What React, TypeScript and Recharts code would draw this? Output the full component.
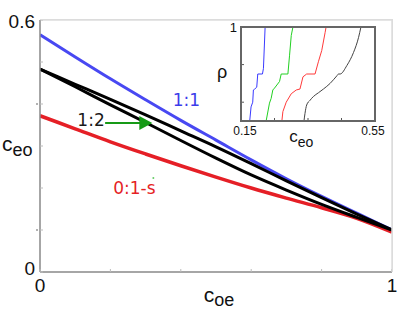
import React from 'react';
import { LineChart, Line, XAxis, YAxis, ReferenceDot, ReferenceLine } from 'recharts';

// ---- main chart data ----
const ratio11 = [
  { x: 0, y: 0.565 }, { x: 0.1, y: 0.512 }, { x: 0.2, y: 0.460 }, { x: 0.3, y: 0.410 },
  { x: 0.4, y: 0.361 }, { x: 0.5, y: 0.314 }, { x: 0.6, y: 0.267 }, { x: 0.7, y: 0.222 },
  { x: 0.8, y: 0.180 }, { x: 0.9, y: 0.140 }, { x: 1, y: 0.10 },
];
const ratio12Upper = [
  { x: 0, y: 0.483 }, { x: 0.1, y: 0.447 }, { x: 0.2, y: 0.411 }, { x: 0.3, y: 0.374 },
  { x: 0.4, y: 0.336 }, { x: 0.5, y: 0.298 }, { x: 0.6, y: 0.258 }, { x: 0.7, y: 0.217 },
  { x: 0.8, y: 0.177 }, { x: 0.9, y: 0.138 }, { x: 1, y: 0.10 },
];
const ratio12Lower = [
  { x: 0, y: 0.483 }, { x: 0.1, y: 0.441 }, { x: 0.2, y: 0.398 }, { x: 0.3, y: 0.356 },
  { x: 0.4, y: 0.313 }, { x: 0.5, y: 0.271 }, { x: 0.6, y: 0.231 }, { x: 0.7, y: 0.195 },
  { x: 0.8, y: 0.161 }, { x: 0.9, y: 0.130 }, { x: 1, y: 0.10 },
];
const ratio01s = [
  { x: 0, y: 0.372 }, { x: 0.1, y: 0.341 }, { x: 0.2, y: 0.310 }, { x: 0.3, y: 0.281 },
  { x: 0.4, y: 0.253 }, { x: 0.5, y: 0.226 }, { x: 0.6, y: 0.200 }, { x: 0.7, y: 0.176 },
  { x: 0.8, y: 0.153 }, { x: 0.9, y: 0.128 }, { x: 1, y: 0.095 },
];
const mainXTicks = [0, 0.2, 0.4, 0.6, 0.8, 1];
const mainYTicks = [0, 0.1, 0.2, 0.3, 0.4, 0.5, 0.6];
const mainXLabels: Record<string, string> = { '0': '0', '1': '1' };
const mainYLabels: Record<string, string> = { '0': '0', '0.6': '0.6' };

// ---- inset data (cumulative distributions of c_eo) ----
const insetBlue = [
  { x: 0.170, r: 0 }, { x: 0.176, r: 0 }, { x: 0.180, r: 0.15 }, { x: 0.185, r: 0.2 },
  { x: 0.187, r: 0.33 }, { x: 0.191, r: 0.34 }, { x: 0.197, r: 0.36 }, { x: 0.200, r: 0.5 },
  { x: 0.214, r: 0.5 }, { x: 0.217, r: 0.56 }, { x: 0.222, r: 1 }, { x: 0.226, r: 1 },
];
const insetGreen = [
  { x: 0.202, r: 0 }, { x: 0.225, r: 0 }, { x: 0.235, r: 0.19 }, { x: 0.240, r: 0.24 },
  { x: 0.245, r: 0.33 }, { x: 0.250, r: 0.35 }, { x: 0.265, r: 0.42 }, { x: 0.270, r: 0.5 },
  { x: 0.290, r: 0.5 }, { x: 0.295, r: 0.70 }, { x: 0.300, r: 0.91 }, { x: 0.305, r: 1 },
  { x: 0.346, r: 1 },
];
const insetRed = [
  { x: 0.236, r: 0 }, { x: 0.272, r: 0 }, { x: 0.275, r: 0.1 }, { x: 0.285, r: 0.2 },
  { x: 0.300, r: 0.29 }, { x: 0.315, r: 0.33 }, { x: 0.326, r: 0.34 }, { x: 0.335, r: 0.47 },
  { x: 0.346, r: 0.5 }, { x: 0.371, r: 0.5 }, { x: 0.381, r: 0.63 }, { x: 0.391, r: 0.75 },
  { x: 0.401, r: 0.94 }, { x: 0.404, r: 1 }, { x: 0.426, r: 1 },
];
const insetBlack = [
  { x: 0.338, r: 0 }, { x: 0.341, r: 0.08 }, { x: 0.346, r: 0.17 }, { x: 0.356, r: 0.22 },
  { x: 0.366, r: 0.26 }, { x: 0.381, r: 0.30 }, { x: 0.396, r: 0.34 }, { x: 0.416, r: 0.40 },
  { x: 0.436, r: 0.48 }, { x: 0.441, r: 0.5 }, { x: 0.446, r: 0.5 }, { x: 0.466, r: 0.59 },
  { x: 0.486, r: 0.73 }, { x: 0.501, r: 0.89 }, { x: 0.508, r: 1 },
];
const insetXTicks = [0.15, 0.2, 0.25, 0.3, 0.35, 0.4, 0.45, 0.5, 0.55];
const insetYTicks = [0, 0.2, 0.4, 0.6, 0.8, 1];
const insetXLabels: Record<string, string> = { '0.15': '0.15', '0.55': '0.55' };
const insetYLabels: Record<string, string> = { '0': '0', '1': '1' };

const FONT = '"Liberation Sans", Arial, sans-serif';
const FONT2 = '"DejaVu Sans", sans-serif';

const MainXTick = (p: any) => {
  const lab = mainXLabels[String(p.payload.value)];
  return (
    <g>
      <line x1={p.x} x2={p.x} y1={p.y} y2={p.y - 3} stroke="#bbb" />
      {lab && (
        <text x={p.x} y={p.y + 20} textAnchor="middle" fontSize={19} fill="#111" fontFamily={FONT}>{lab}</text>
      )}
    </g>
  );
};
const MainYTick = (p: any) => {
  const v = String(p.payload.value);
  const lab = mainYLabels[v];
  const dy = v === '0' ? 3 : 8;
  return (
    <g>
      <line x1={p.x} x2={p.x + 3} y1={p.y} y2={p.y} stroke="#bbb" />
      {(v === '0.4' || v === '0.1') && <circle cx={p.x - 3} cy={p.y} r={1} fill="#999" />}
      {lab && (
        <text x={p.x - 5} y={p.y + dy} textAnchor="end" fontSize={19} fill="#111" fontFamily={FONT}>{lab}</text>
      )}
    </g>
  );
};
const MainRightTick = (p: any) => (
  <line x1={p.x} x2={p.x - 3} y1={p.y} y2={p.y} stroke="#ccc" />
);
const NoTick = () => <g />;

const InsetXTick = (p: any) => {
  const v = String(p.payload.value);
  const lab = insetXLabels[v];
  const dx = v === '0.15' ? 4 : -2;
  return (
    <g>
      <line x1={p.x} x2={p.x} y1={p.y} y2={p.y - 3} stroke="#555" />
      {lab && (
        <text x={p.x + dx} y={p.y + 14} textAnchor="middle" fontSize={12} fill="#111" fontFamily={FONT}>{lab}</text>
      )}
    </g>
  );
};
const InsetTopTick = (p: any) => (
  <line x1={p.x} x2={p.x} y1={p.y} y2={p.y + 3} stroke="#555" />
);
const InsetYTick = (p: any) => {
  const v = String(p.payload.value);
  const lab = insetYLabels[v];
  const dy = v === '1' ? 5 : 2;
  return (
    <g>
      <line x1={p.x} x2={p.x + 3} y1={p.y} y2={p.y} stroke="#555" />
      {lab && (
        <text x={p.x - 4} y={p.y + dy} textAnchor="end" fontSize={13} fill="#111" fontFamily={FONT}>{lab}</text>
      )}
    </g>
  );
};
const InsetRightTick = (p: any) => (
  <line x1={p.x} x2={p.x - 3} y1={p.y} y2={p.y} stroke="#555" />
);

const MainYLabel = (p: any) => {
  const vb = p.viewBox;
  return (
    <text x={vb.x + 2} y={vb.y + vb.height * 0.52} fontSize={21} fill="#111" fontFamily={FONT}>
      c<tspan fontSize={18} dy={5}>eo</tspan>
    </text>
  );
};
const MainXLabel = (p: any) => {
  const vb = p.viewBox;
  return (
    <text x={vb.x + vb.width * 0.465} y={vb.y + 30} fontSize={21} fill="#111" fontFamily={FONT}>
      c<tspan fontSize={18} dy={4}>oe</tspan>
    </text>
  );
};
const InsetYLabel = (p: any) => {
  const vb = p.viewBox;
  return (
    <text x={vb.x + 22} y={vb.y + vb.height * 0.5 + 4} textAnchor="middle" fontSize={18} fill="#111" fontFamily={FONT}>ρ</text>
  );
};
const InsetXLabel = (p: any) => {
  const vb = p.viewBox;
  return (
    <text x={vb.x + vb.width * 0.36} y={vb.y + 21} fontSize={17} fill="#111" fontFamily={FONT}>
      c<tspan fontSize={14} dy={5}>eo</tspan>
    </text>
  );
};

const textShape = (label: string, color: string, size: number) => (p: any) => (
  <text x={p.cx} y={p.cy} textAnchor="middle" dominantBaseline="central" fontSize={size} fill={color} fontFamily={FONT2}>{label}</text>
);
const arrowHead = (p: any) => (
  <polygon points={`${p.cx},${p.cy} ${p.cx - 13},${p.cy - 7} ${p.cx - 13},${p.cy + 7}`} fill="#169a16" />
);

export default function App() {
  return (
    <div style={{ position: 'absolute', left: 0, top: 0, width: 415, height: 310, background: '#fff' }}>
      <LineChart width={415} height={310} margin={{ top: 0, right: 0, bottom: 0, left: 0 }}>
        <XAxis
          xAxisId="main" type="number" dataKey="x" domain={[0, 1]} ticks={mainXTicks}
          height={38} tickSize={0} tickMargin={0} tickLine={false} tick={<MainXTick />}
          axisLine={{ stroke: '#888', strokeWidth: 1.5 }} allowDataOverflow
          label={{ content: <MainXLabel /> }}
        />
        <XAxis
          xAxisId="top" orientation="top" type="number" dataKey="x" domain={[0, 1]} ticks={mainXTicks}
          height={20} tickSize={0} tickMargin={0} tickLine={false} tick={<NoTick />}
          axisLine={{ stroke: '#dcdcdc', strokeWidth: 1.5 }}
        />
        <YAxis
          yAxisId="main" type="number" domain={[0, 0.6]} ticks={mainYTicks} width={40}
          tickSize={0} tickMargin={0} tickLine={false} tick={<MainYTick />}
          axisLine={{ stroke: '#888', strokeWidth: 1.5 }} allowDataOverflow
          label={{ content: <MainYLabel /> }}
        />
        <YAxis
          yAxisId="right" orientation="right" type="number" domain={[0, 0.6]} ticks={mainYTicks} width={23}
          tickSize={0} tickMargin={0} tickLine={false} tick={<MainRightTick />}
          axisLine={{ stroke: '#dcdcdc', strokeWidth: 1.5 }}
        />
        <Line xAxisId="main" yAxisId="main" data={ratio11} dataKey="y" type="monotone" stroke="#4848f2" strokeWidth={3} dot={false} isAnimationActive={false} />
        <Line xAxisId="main" yAxisId="main" data={ratio01s} dataKey="y" type="monotone" stroke="#e51f26" strokeWidth={3.5} dot={false} isAnimationActive={false} />
        <Line xAxisId="main" yAxisId="main" data={ratio12Upper} dataKey="y" type="monotone" stroke="#000" strokeWidth={3} dot={false} isAnimationActive={false} />
        <Line xAxisId="main" yAxisId="main" data={ratio12Lower} dataKey="y" type="monotone" stroke="#000" strokeWidth={3} dot={false} isAnimationActive={false} />
        <ReferenceLine xAxisId="main" yAxisId="main" segment={[{ x: 0.185, y: 0.355 }, { x: 0.300, y: 0.355 }]} stroke="#169a16" strokeWidth={2} />
        <ReferenceDot xAxisId="main" yAxisId="main" x={0.319} y={0.355} r={0} shape={arrowHead} />
        <ReferenceDot xAxisId="main" yAxisId="main" x={0.416} y={0.41} r={0} shape={textShape('1:1', '#3c3cea', 17)} />
        <ReferenceDot xAxisId="main" yAxisId="main" x={0.145} y={0.363} r={0} shape={textShape('1:2', '#1a1a1a', 17)} />
        <ReferenceDot xAxisId="main" yAxisId="main" x={0.268} y={0.2} r={0} shape={textShape('0:1-s', '#e51f26', 17)} />
        <ReferenceDot xAxisId="main" yAxisId="main" x={0.322} y={0.224} r={1} fill="#6c6" stroke="none" />
      </LineChart>
      <div style={{ position: 'absolute', left: 200, top: 0, zIndex: 2 }}>
        <LineChart width={200} height={150} margin={{ top: 7, right: 5, bottom: 0, left: 0 }}>
          <XAxis
            xAxisId="b" type="number" dataKey="x" domain={[0.15, 0.55]} ticks={insetXTicks}
            height={29} tickSize={0} tickMargin={0} tickLine={false} tick={<InsetXTick />}
            axisLine={{ stroke: '#666', strokeWidth: 2 }} allowDataOverflow
            label={{ content: <InsetXLabel /> }}
          />
          <XAxis
            xAxisId="t" orientation="top" type="number" dataKey="x" domain={[0.15, 0.55]} ticks={insetXTicks}
            height={20} tickSize={0} tickMargin={0} tickLine={false} tick={<InsetTopTick />}
            axisLine={{ stroke: '#666', strokeWidth: 2 }}
          />
          <YAxis
            yAxisId="l" type="number" domain={[0, 1]} ticks={insetYTicks} width={41}
            tickSize={0} tickMargin={0} tickLine={false} tick={<InsetYTick />}
            axisLine={{ stroke: '#666', strokeWidth: 2 }} allowDataOverflow
            label={{ content: <InsetYLabel /> }}
          />
          <YAxis
            yAxisId="r" orientation="right" type="number" domain={[0, 1]} ticks={insetYTicks} width={20}
            tickSize={0} tickMargin={0} tickLine={false} tick={<InsetRightTick />}
            axisLine={{ stroke: '#666', strokeWidth: 2 }}
          />
          <Line xAxisId="b" yAxisId="l" data={insetBlue} dataKey="r" type="linear" stroke="#3a3aff" strokeWidth={1} dot={false} isAnimationActive={false} />
          <Line xAxisId="b" yAxisId="l" data={insetGreen} dataKey="r" type="linear" stroke="#22d022" strokeWidth={1} dot={false} isAnimationActive={false} />
          <Line xAxisId="b" yAxisId="l" data={insetRed} dataKey="r" type="linear" stroke="#ff3a3a" strokeWidth={1} dot={false} isAnimationActive={false} />
          <Line xAxisId="b" yAxisId="l" data={insetBlack} dataKey="r" type="monotone" stroke="#444" strokeWidth={1} dot={false} isAnimationActive={false} />
        </LineChart>
      </div>
      <div style={{ position: 'absolute', left: 40, top: 19, width: 353, height: 253, boxSizing: 'border-box', borderTop: '1.5px solid #dcdcdc', borderRight: '1.5px solid #dcdcdc', pointerEvents: 'none', zIndex: 1 }} />
      <div style={{ position: 'absolute', left: 240, top: 26, width: 136, height: 96, boxSizing: 'border-box', border: '2px solid #666', pointerEvents: 'none', zIndex: 3 }} />
    </div>
  );
}
